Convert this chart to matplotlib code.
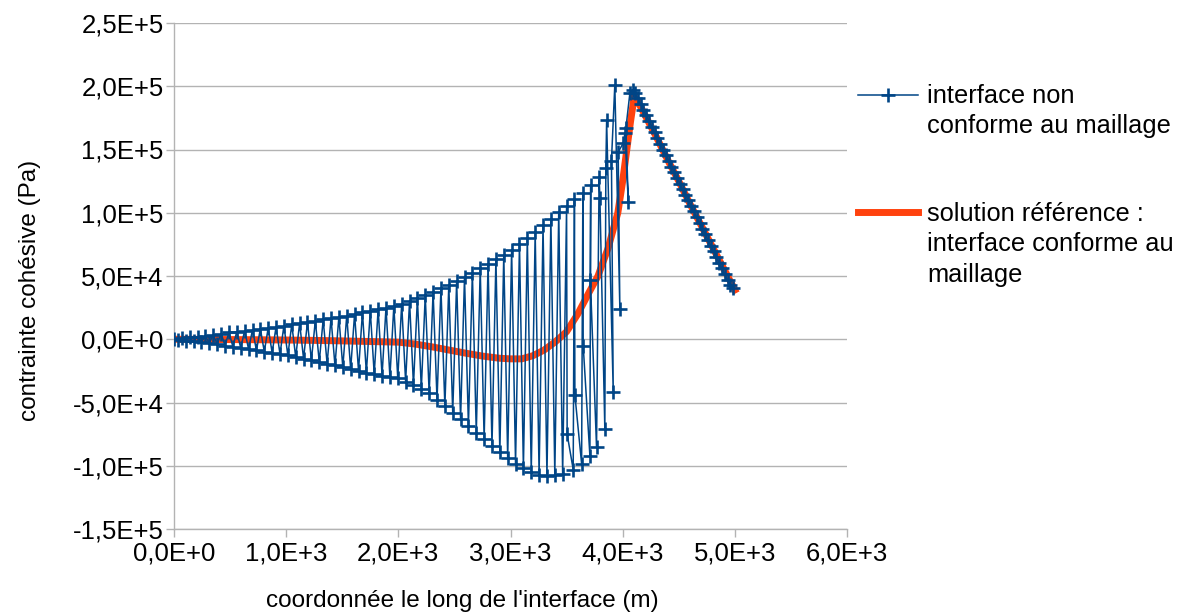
import matplotlib
matplotlib.use("Agg")
import matplotlib.pyplot as plt
from matplotlib.lines import Line2D

plt.rcParams['font.family'] = ['Liberation Sans', 'DejaVu Sans']

# ---------------- data ----------------
# zig-zag part of the non-conforming interface solution (alternating upper / lower points)
x_zigzag = [0, 35, 70, 105, 140, 175, 210, 245, 280, 315, 350, 385, 420, 455, 490, 525,
            560, 595, 630, 665, 700, 735, 770, 805, 840, 875, 910, 945, 980, 1015, 1050,
            1085, 1120, 1155, 1190, 1225, 1260, 1295, 1330, 1365, 1400, 1435, 1470, 1505,
            1540, 1575, 1610, 1645, 1680, 1715, 1750, 1785, 1820, 1855, 1890, 1925, 1960,
            1995, 2030, 2065, 2100, 2135, 2170, 2205, 2240, 2275, 2310, 2345, 2380, 2415,
            2450, 2485, 2520, 2555, 2590, 2625, 2660, 2695, 2730, 2765, 2800, 2835, 2870,
            2905, 2940, 2975, 3010, 3045, 3080, 3115, 3150, 3185, 3220, 3255, 3290, 3325,
            3360, 3395, 3430, 3465]
y_zigzag = [0, -350, 700, -1050, 1400, -1750, 2100, -2450, 2860, -3280, 3700, -4120, 4540,
            -4960, 5380, -5850, 6100, -6830, 6800, -7810, 7500, -8790, 8240, -9770, 9080,
            -10750, 9920, -11730, 10760, -12770, 11700, -14030, 12680, -15290, 13660, -16550,
            14640, -17900, 15620, -19300, 16600, -20700, 17580, -22100, 18720, -23500, 19980,
            -24900, 21240, -26300, 22500, -27560, 23760, -28680, 25020, -29800, 26280, -30920,
            27960, -33600, 30200, -36400, 32440, -39200, 34680, -42800, 37400, -47840, 40200,
            -52880, 43000, -57920, 45960, -63180, 49320, -68500, 52680, -73820, 56040, -79080,
            59600, -84120, 63240, -89160, 66880, -94200, 70680, -98400, 75440, -102130, 80200,
            -105050, 84960, -107150, 90040, -108170, 95360, -107230, 100680, -106300]

# erratic part just before the peak
x_transition = [3500, 3505, 3559, 3570, 3574, 3634, 3645, 3648, 3708, 3715, 3712, 3767, 3790,
                3797, 3841, 3850, 3857, 3916, 3900, 3930, 3975, 3960, 4005, 4020, 4050, 4029,
                4064, 4090]
y_transition = [105000, -75000, -103000, 111000, -44000, -98400, 116000, -5000, -92300, 122000,
                47000, -85200, 128000, 112000, -71200, 135000, 173000, -42000, 141000, 201000,
                24000, 148000, 155000, 162700, 108600, 167000, 194400, 197000]

# descending part after the peak
x_descent = [4110, 4135, 4160, 4185, 4210, 4235, 4260, 4285, 4310, 4335, 4360, 4385, 4410,
             4435, 4460, 4485, 4510, 4535, 4560, 4585, 4610, 4635, 4660, 4685, 4710, 4735,
             4760, 4785, 4810, 4835, 4860, 4885, 4910, 4935, 4960, 4985]
y_descent = [195000, 190500, 186000, 181500, 177000, 172500, 168000, 163500, 159000, 154500,
             150000, 145500, 141000, 136500, 132000, 127500, 123000, 118500, 114000, 110000,
             105500, 101000, 96500, 92000, 87500, 83000, 78500, 74000, 69500, 65000, 60500,
             56000, 51500, 47000, 43000, 40500]

# reference solution (conforming interface)
x_ref = [0, 250, 500, 750, 1000, 1250, 1500, 1750, 2000, 2150, 2300, 2450, 2600, 2750, 2900,
         3000, 3100, 3200, 3300, 3400, 3500, 3600, 3700, 3780, 3870, 3957, 4000, 4040, 4070,
         4105, 4200, 4300, 4400, 4500, 4600, 4700, 4800, 4900, 5000]
y_ref = [0, -100, -250, -400, -600, -900, -1300, -1800, -2300, -3800, -6000, -8500, -11000,
         -13300, -15000, -15500, -15500, -13000, -8500, -2000, 6000, 20000, 37000, 50000,
         72000, 100000, 125000, 152000, 172000, 193000, 177000, 160000, 142000, 125000,
         107000, 90000, 73000, 56000, 39000]

x_ticks = [0, 1000, 2000, 3000, 4000, 5000, 6000]
x_tick_labels = ["0,0E+0", "1,0E+3", "2,0E+3", "3,0E+3", "4,0E+3", "5,0E+3", "6,0E+3"]
y_ticks = [-150000, -100000, -50000, 0, 50000, 100000, 150000, 200000, 250000]
y_tick_labels = ["-1,5E+5", "-1,0E+5", "-5,0E+4", "0,0E+0", "5,0E+4", "1,0E+5", "1,5E+5",
                 "2,0E+5", "2,5E+5"]

label_blue = "interface non\nconforme au maillage"
label_ref = "solution référence :\ninterface conforme au\nmaillage"

BLUE = "#004586"
ORANGE = "#ff420e"
GRID = "#b3b3b3"
FS_TICK = 18.5
FS_TITLE = 17.5
FS_LEG = 18.3
MS = 9.5
MEW = 1.9

# ---------------- figure ----------------
W, H = 1177, 614
fig = plt.figure(figsize=(W / 100, H / 100), dpi=100)
L, R, T, B = 174, 847, 23, 529
ax = fig.add_axes([L / W, 1 - B / H, (R - L) / W, (B - T) / H])

x_blue = x_zigzag + x_transition + x_descent
y_blue = y_zigzag + y_transition + y_descent

ax.plot(x_ref, y_ref, color=ORANGE, lw=5, solid_joinstyle='round', zorder=2)
ax.plot(x_blue, y_blue, color=BLUE, lw=1.1, marker='+', markersize=MS,
        markeredgewidth=MEW, zorder=3)

ax.set_xlim(0, 6000)
ax.set_ylim(-150000, 250000)
ax.set_xticks(x_ticks)
ax.set_xticklabels(x_tick_labels)
ax.set_yticks(y_ticks)
ax.set_yticklabels(y_tick_labels)

ax.grid(axis='y', color=GRID, lw=1)
ax.set_axisbelow(True)
for s in ['top', 'right']:
    ax.spines[s].set_visible(False)
for s in ['left', 'bottom']:
    ax.spines[s].set_color(GRID)
    ax.spines[s].set_linewidth(1)
ax.tick_params(direction='out', length=6, width=1, color=GRID, labelsize=FS_TICK,
               labelcolor='black')
ax.tick_params(axis='x', pad=3)
ax.tick_params(axis='y', pad=1.5)

ax.set_xlabel("coordonnée le long de l'interface (m)", fontsize=FS_TITLE)
ax.xaxis.set_label_coords((462 - L) / (R - L), (B - 601) / (B - T))
ax.xaxis.label.set_va('center')
ax.set_ylabel("contrainte cohésive (Pa)", fontsize=FS_TITLE)
ax.yaxis.set_label_coords((30 - L) / (R - L), (B - 290) / (B - T))
ax.yaxis.label.set_va('center')
ax.yaxis.label.set_ha('center')

# ---------------- legend (drawn in figure pixel coordinates) ----------------
def fx(px):
    return px / W

def fy(py):
    return 1 - py / H

fig.add_artist(Line2D([fx(858), fx(918)], [fy(95), fy(95)], color=BLUE, lw=1.1))
fig.add_artist(Line2D([fx(888)], [fy(95)], color=BLUE, marker='+', markersize=MS,
                      markeredgewidth=MEW, lw=0))
fig.add_artist(Line2D([fx(858), fx(918)], [fy(212), fy(212)], color=ORANGE, lw=5))
fig.text(fx(927), fy(84), label_blue, fontsize=FS_LEG, va='top', ha='left', linespacing=1.33)
fig.text(fx(927), fy(202), label_ref, fontsize=FS_LEG, va='top', ha='left', linespacing=1.33)

fig.savefig("out.png", dpi=100)
